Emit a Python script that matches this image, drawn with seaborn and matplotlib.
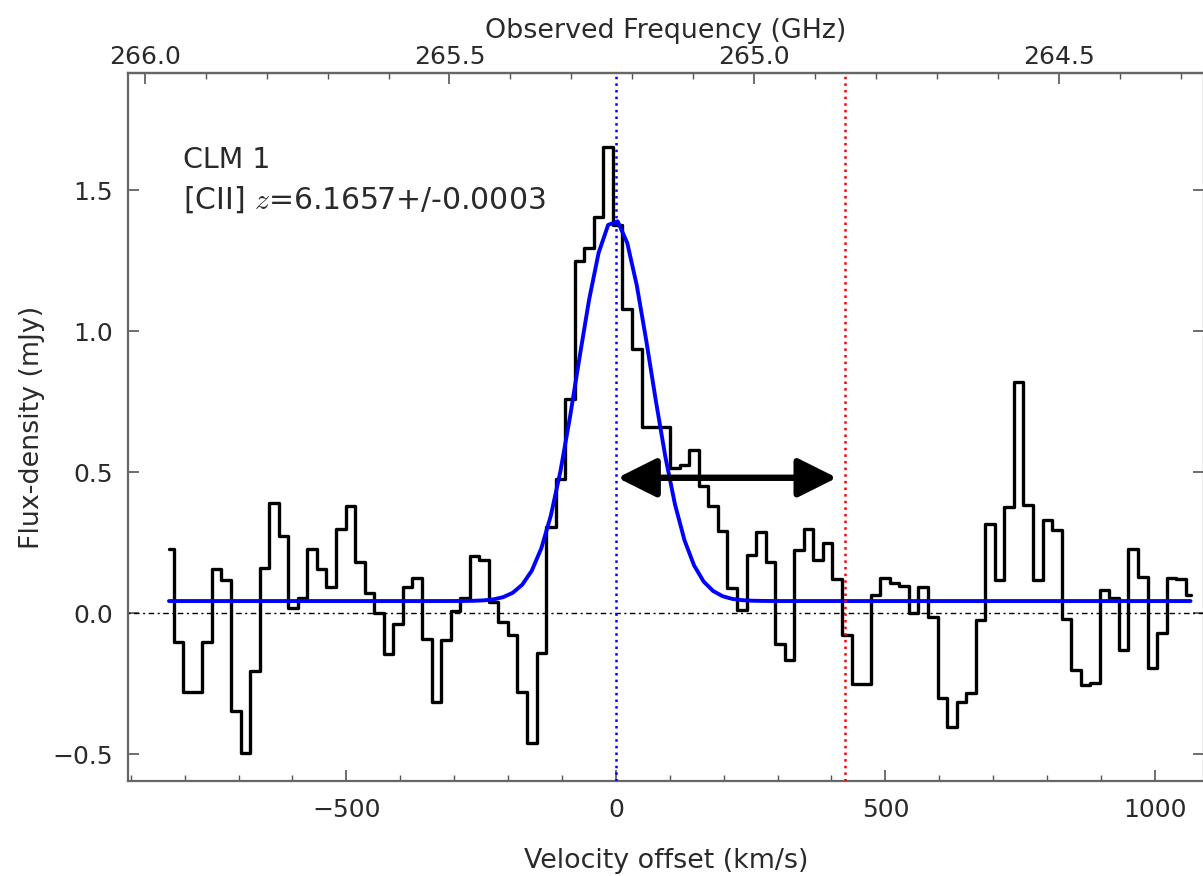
import numpy as np
import matplotlib
matplotlib.use('Agg')
import matplotlib.pyplot as plt
from matplotlib.ticker import MultipleLocator, FixedLocator, FormatStrFormatter
import seaborn as sns

# Espectro [CII] de CLM 1 (mJy por canal)
fluxo = [0.229, -0.102, -0.281, -0.281, -0.102, 0.156, 0.117, -0.347, -0.497, -0.204,
         0.161, 0.391, 0.273, 0.019, 0.054, 0.229, 0.156, 0.091, 0.300, 0.379,
         0.182, 0.072, -0.001, -0.146, -0.040, 0.091, 0.125, -0.090, -0.314, -0.096,
         0.007, 0.052, 0.202, 0.190, 0.040, -0.031, -0.078, -0.281, -0.459, -0.141,
         0.306, 0.475, 0.761, 1.247, 1.295, 1.403, 1.652, 1.377, 1.080, 0.935,
         0.660, 0.660, 0.660, 0.515, 0.527, 0.580, 0.450, 0.380, 0.290, 0.090,
         0.010, 0.207, 0.288, 0.182, -0.110, -0.167, 0.223, 0.300, 0.190, 0.250,
         0.120, -0.076, -0.250, -0.250, 0.063, 0.125, 0.108, 0.098, 0.002, 0.091,
         -0.015, -0.299, -0.403, -0.314, -0.284, -0.025, 0.316, 0.117, 0.377, 0.820,
         0.383, 0.117, 0.332, 0.294, -0.022, -0.202, -0.255, -0.249, 0.081, 0.055,
         -0.129, 0.229, 0.129, -0.193, -0.070, 0.125, 0.121, 0.064]

# Grade de canais (km/s)
vel_inicio = -829.0
largura_canal = 17.71
velocidade = vel_inicio + largura_canal * np.arange(len(fluxo))

# Parâmetros do ajuste gaussiano
amplitude, centro, sigma, continuo = 1.352, -3.0, 68.0, 0.043
modelo = continuo + amplitude * np.exp(-0.5 * ((velocidade - centro) / sigma) ** 2)

# Linhas de referência e seta
v_azul = 0.0
v_vermelha = 425.0
seta_x = [3.0, 410.0]
seta_y = 0.48

# Eixo superior: frequência observada
freq_ticks = [266.0, 265.5, 265.0, 264.5]
z = 6.1657
nu_rest = 1900.5369
c_kms = 299792.458
nu0 = nu_rest / (1 + z)

sns.set_theme(style='ticks', rc={
    'xtick.direction': 'in', 'ytick.direction': 'in',
    'ytick.right': True, 'xtick.top': False,
    'xtick.major.size': 8, 'xtick.minor.size': 4,
    'ytick.major.size': 8, 'ytick.minor.size': 4,
    'xtick.major.width': 1.2, 'xtick.minor.width': 1.0,
    'ytick.major.width': 1.2,
    'axes.edgecolor': '#666666', 'axes.linewidth': 1.6,
    'xtick.color': '#555555', 'ytick.color': '#555555',
    'xtick.labelcolor': '#2a2a2a', 'ytick.labelcolor': '#2a2a2a',
    'axes.labelcolor': '#2a2a2a',
    'mathtext.fontset': 'cm',
})
plt.rcParams['font.family'] = ['DejaVu Sans']

fig = plt.figure(figsize=(12.03, 8.76), dpi=100)
ax = fig.add_axes([128 / 1203, 95 / 876, 1076 / 1203, 708 / 876])

ax.axhline(0, color='black', ls=(0, (1.5, 2.5, 4, 2.5)), lw=1.0, zorder=1)
sns.lineplot(x=velocidade, y=fluxo, drawstyle='steps-mid', color='black',
             lw=2.4, ax=ax, estimator=None, sort=False, zorder=2)
sns.lineplot(x=velocidade, y=modelo, color='blue', lw=2.8, ax=ax,
             estimator=None, sort=False, zorder=3)
ax.axvline(v_azul, color='blue', ls=':', lw=1.8, zorder=4)
ax.axvline(v_vermelha, color='red', ls=':', lw=1.8, zorder=4)

ax.annotate('', xy=(seta_x[1], seta_y), xytext=(seta_x[0], seta_y),
            arrowprops=dict(arrowstyle='<|-|>,head_length=1.7,head_width=0.85',
                            mutation_scale=14, lw=4.6, color='black',
                            shrinkA=0, shrinkB=0), zorder=5)

ax.text(0.051, 0.866, 'CLM 1', transform=ax.transAxes, fontsize=20.5,
        color='#2a2a2a', va='baseline')
ax.text(0.051, 0.809, '[CII] $z$=6.1657+/-0.0003', transform=ax.transAxes,
        fontsize=21.5, color='#2a2a2a', va='baseline')

ax.set_xlim(-905, 1091)
ax.set_ylim(-0.595, 1.915)
ax.xaxis.set_major_locator(MultipleLocator(500))
ax.xaxis.set_minor_locator(MultipleLocator(100))
ax.yaxis.set_major_locator(MultipleLocator(0.5))
ax.tick_params(axis='x', which='both', labelsize=18, pad=12)
ax.tick_params(axis='y', which='both', labelsize=18, pad=11)
ax.set_xlabel('Velocity offset (km/s)', fontsize=19.4, labelpad=19)
ax.set_ylabel('Flux-density (mJy)', fontsize=19.4, labelpad=5)

secax = ax.secondary_xaxis('top', functions=(lambda v: nu0 * (1 - v / c_kms),
                                             lambda f: c_kms * (1 - f / nu0)))
secax.xaxis.set_major_locator(FixedLocator(freq_ticks))
secax.xaxis.set_minor_locator(MultipleLocator(0.1))
secax.xaxis.set_major_formatter(FormatStrFormatter('%.1f'))
secax.tick_params(axis='x', which='both', direction='in', labelsize=18, pad=3)
secax.set_xlabel('Observed Frequency (GHz)', fontsize=19.4, labelpad=5)

fig.savefig('out.png', dpi=100)
